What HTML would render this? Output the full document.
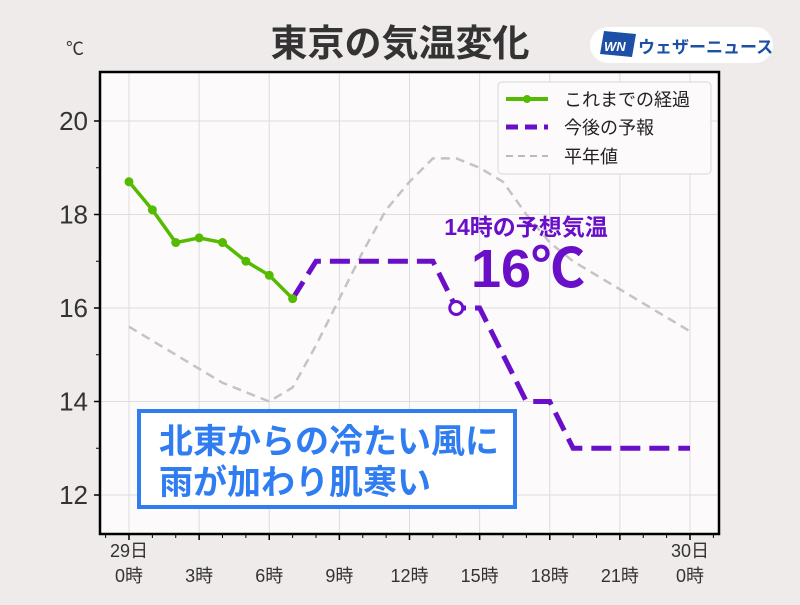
<!DOCTYPE html>
<html><head><meta charset="utf-8"><style>
body{margin:0;width:800px;height:600px;background:#efebea;overflow:hidden;font-family:"Liberation Sans","Noto Sans CJK JP",sans-serif}
</style></head><body>
<svg id="c" width="800" height="600" xmlns="http://www.w3.org/2000/svg" style="font-family:'Liberation Sans','Noto Sans CJK JP',sans-serif">
<text x="400" y="56" text-anchor="middle" font-size="37" font-weight="bold" fill="#333">東京の気温変化</text>
<g>
<rect x="590" y="27" width="183" height="36" rx="18" fill="#fff"/>
<polygon points="604,31 636,34 632,57 600,54" fill="#1d4fa6"/>
<text x="604" y="51" font-size="13" font-weight="bold" fill="#fff" font-style="italic">WN</text>
<text x="638" y="53" font-size="17" font-weight="bold" fill="#1d4fa6">ウェザーニュース</text>
</g>
<text x="66" y="55" font-size="18" fill="#333">℃</text>
<rect x="100" y="72" width="619" height="462" fill="#fcfafb"/>
<g id="grid"></g><g id="axes"></g><g id="series"></g>
<rect x="100" y="72" width="619" height="462" fill="none" stroke="#000" stroke-width="2.5"/>
<g>
<rect x="498" y="82" width="213" height="92" rx="4" fill="#fcfafb" stroke="#d8d8d8"/>
<g><line x1="506" y1="99" x2="548" y2="99" stroke="#55bb00" stroke-width="4"/><circle cx="527" cy="99" r="4" fill="#55bb00"/><text x="564" y="106" font-size="18" fill="#222">これまでの経過</text></g>
<g><line x1="506" y1="127" x2="548" y2="127" stroke="#6a0fc8" stroke-width="5" stroke-dasharray="12,7"/><text x="564" y="134" font-size="18" fill="#222">今後の予報</text></g>
<g><line x1="506" y1="156" x2="548" y2="156" stroke="#bbb" stroke-width="2" stroke-dasharray="7,5"/><text x="564" y="163" font-size="18" fill="#222">平年値</text></g>
</g>
<text x="526" y="235" text-anchor="middle" font-size="23" font-weight="bold" fill="#6a0fc8">14時の予想気温</text>
<text x="528" y="287" text-anchor="middle" font-size="54" font-weight="bold" fill="#6a0fc8">16℃</text>
<g>
<rect x="139" y="411" width="376" height="96" fill="#fff" stroke="#2f7df0" stroke-width="4"/>
<text x="159" y="453" font-size="34" font-weight="bold" fill="#2f7df0">北東からの冷たい風に</text>
<text x="159" y="494" font-size="34" font-weight="bold" fill="#2f7df0">雨が加わり肌寒い</text>
</g>
</svg>
<script>
const obsHours=[0,1,2,3,4,5,6,7];
const obsTemps=[18.7,18.1,17.4,17.5,17.4,17.0,16.7,16.2];
const fcHours=[7,8,13,14,15,17,18,19,24];
const fcTemps=[16.2,17,17,16,16,14,14,13,13];
const normHours=[0,1,2,3,4,5,6,7,8,9,10,11,12,13,14,15,16,17,18,19,20,21,22,23,24];
const normTemps=[15.6,15.3,15.0,14.7,14.4,14.2,14.0,14.3,15.2,16.2,17.2,18.1,18.7,19.2,19.2,19.0,18.7,18.0,17.4,17.0,16.7,16.4,16.1,15.8,15.5];
const yTicks=[12,14,16,18,20];
const xTickHours=[0,3,6,9,12,15,18,21,24];
const xTickLabels=["0時","3時","6時","9時","12時","15時","18時","21時","0時"];
const NS="http://www.w3.org/2000/svg";
const X=h=>129+h*(690-129)/24;
const Y=t=>121+(20-t)*(495-121)/8;
function mk(tag,attrs,parent){const e=document.createElementNS(NS,tag);for(const k in attrs)e.setAttribute(k,attrs[k]);document.getElementById(parent).appendChild(e);return e;}
yTicks.forEach(t=>{
 const g=mk('line',{x1:100,x2:719,y1:Y(t),y2:Y(t),stroke:'#ddd','stroke-width':1},'grid');
 
 
 const l=mk('text',{x:88,y:Y(t)+9,'text-anchor':'end','font-size':26,fill:'#333'},'axes');l.textContent=t;
 
 
 mk('line',{x1:94,x2:100,y1:Y(t),y2:Y(t),stroke:'#000','stroke-width':1.5},'axes');
 if(t<20) mk('line',{x1:96,x2:100,y1:Y(t+1),y2:Y(t+1),stroke:'#000','stroke-width':1},'axes');
});
for(let h=-1;h<=25;h++){const x=X(h);if(x<100||x>719)continue;mk('line',{x1:x,x2:x,y1:534,y2:538,stroke:'#000','stroke-width':1},'axes');}
xTickHours.forEach((h,i)=>{
 const g=mk('line',{x1:X(h),x2:X(h),y1:72,y2:534,stroke:'#ddd','stroke-width':1},'grid');
 
 
 mk('line',{x1:X(h),x2:X(h),y1:534,y2:540,stroke:'#000','stroke-width':1.5},'axes');
 const l=mk('text',{x:X(h),y:582,'text-anchor':'middle','font-size':18,fill:'#333'},'axes');l.textContent=xTickLabels[i];
 
 
});
[["29日",0],["30日",24]].forEach(([s,h])=>{const l=mk('text',{x:X(h),y:557,'text-anchor':'middle','font-size':18,fill:'#333'},'axes');l.textContent=s;
 
 });
const pts=(hs,ts)=>hs.map((h,i)=>X(h)+','+Y(ts[i])).join(' ');
const n=mk('polyline',{points:pts(normHours,normTemps),fill:'none',stroke:'#c4c4c4','stroke-width':2.5,'stroke-dasharray':'9,6'},'series');


const f=mk('polyline',{points:pts(fcHours,fcTemps),fill:'none',stroke:'#6a0fc8','stroke-width':5,'stroke-dasharray':'20,9'},'series');


const o=mk('polyline',{points:pts(obsHours,obsTemps),fill:'none',stroke:'#55bb00','stroke-width':3.5},'series');


obsHours.forEach((h,i)=>{const c=mk('circle',{cx:X(h),cy:Y(obsTemps[i]),r:4.5,fill:'#55bb00'},'series');
 
 });
const m=mk('circle',{cx:X(14),cy:Y(16),r:6.5,fill:'#fff',stroke:'#6a0fc8','stroke-width':3},'series');


</script>
</body></html>
